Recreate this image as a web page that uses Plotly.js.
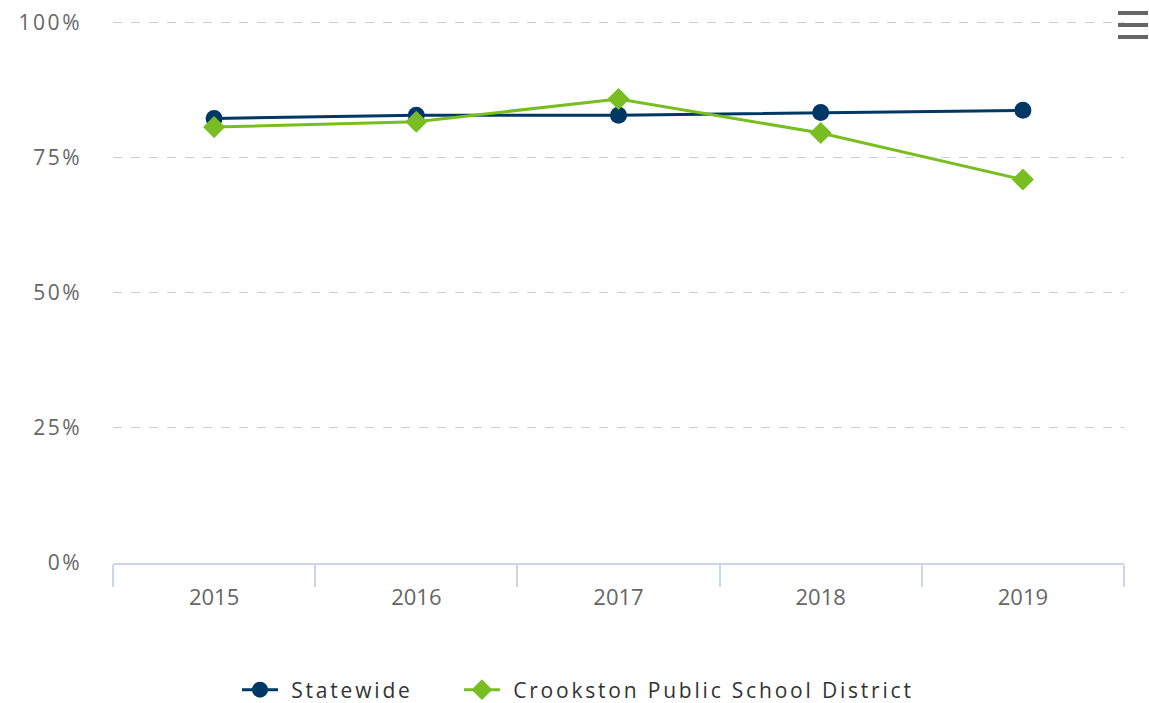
<!DOCTYPE html>
<html>
<head>
<meta charset="utf-8">
<script src="https://cdn.plot.ly/plotly-3.0.1.min.js"></script>
<style>
html, body { margin: 0; padding: 0; background: #fff; }
#chart { width: 1149px; height: 703px; }
.legendtext { letter-spacing: 2.8px; }
.ytick text { letter-spacing: 2.5px; }
</style>
</head>
<body>
<div id="chart"></div>
<script>
const years = ["2015", "2016", "2017", "2018", "2019"];
const statewide = [82.2, 82.8, 82.8, 83.3, 83.7];
const crookston = [80.6, 81.6, 85.8, 79.5, 70.9];
const seriesNames = ["Statewide", "Crookston Public School District"];
const yTickVals = [0, 25, 50, 75, 100];
const yTickText = ["0%", "25%", "50%", "75%", "100%"];

const NB = "\u00a0";
const traces = [
  {
    x: years, y: statewide, name: NB + seriesNames[0] + NB.repeat(5), type: "scatter", mode: "lines+markers",
    line: { color: "#003865", width: 3 },
    marker: { symbol: "circle", size: 17, color: "#003865" }
  },
  {
    x: years, y: crookston, name: NB + seriesNames[1], type: "scatter", mode: "lines+markers",
    line: { color: "#78BE20", width: 3 },
    marker: { symbol: "diamond", size: 17, color: "#78BE20" }
  }
];

const plotH = 543;
const menuLines = [13, 25, 37].map(y => ({
  type: "line", xref: "paper", yref: "paper",
  x0: (1118 - 113) / 1011, x1: (1148 - 113) / 1011,
  y0: (563 - y) / plotH, y1: (563 - y) / plotH,
  line: { color: "#666666", width: 4 }
}));

const layout = {
  width: 1149, height: 703,
  margin: { l: 113, r: 25, t: 20, b: 140 },
  paper_bgcolor: "#ffffff", plot_bgcolor: "#ffffff",
  font: { family: "Open Sans, sans-serif", color: "#666666" },
  showlegend: true,
  legend: {
    orientation: "h", xref: "paper", xanchor: "left", x: (237 - 113) / 1011,
    yref: "container", y: (703 - 690) / 703, yanchor: "middle",
    font: { size: 21, color: "#333333" }, traceorder: "normal",
    itemwidth: 36, borderwidth: 0, bgcolor: "rgba(0,0,0,0)"
  },
  xaxis: {
    type: "category", range: [-0.5, 4.5], tickson: "boundaries",
    showline: true, linecolor: "#ccd6eb", linewidth: 2,
    ticks: "outside", ticklen: 22, tickcolor: "#ccd6eb", tickwidth: 2,
    showgrid: false, zeroline: false,
    tickfont: { size: 22, color: "#666666", family: "Open Sans, sans-serif" },
    ticklabelstandoff: 14, fixedrange: true
  },
  yaxis: {
    range: [0, 100.4], tickvals: yTickVals, ticktext: yTickText,
    showgrid: true, gridcolor: "#cccccc", griddash: "dash", gridwidth: 1.3,
    zeroline: false, showline: false, ticks: "",
    tickfont: { size: 21, color: "#666666", family: "Open Sans, sans-serif" },
    ticklabelstandoff: 30, fixedrange: true
  },
  shapes: menuLines,
  hovermode: false
};

Plotly.newPlot("chart", traces, layout, { displayModeBar: false, staticPlot: true });
</script>
</body>
</html>
